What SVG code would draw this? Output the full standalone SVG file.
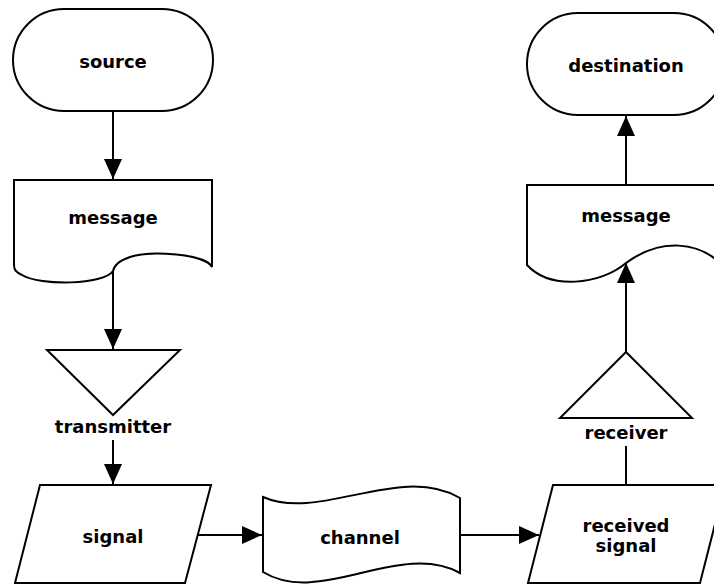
<svg xmlns="http://www.w3.org/2000/svg" width="714" height="584" viewBox="0 0 714 584">
<style>
.s{fill:#fff;stroke:#000;stroke-width:2}
.c{fill:none;stroke:#000;stroke-width:2}
text{font-family:"DejaVu Sans",Verdana,sans-serif;font-weight:bold;font-size:18px;text-anchor:middle;fill:#000}
</style>
<defs>
<marker id="a" markerUnits="userSpaceOnUse" markerWidth="20" markerHeight="20" viewBox="0 0 20 20" refX="20" refY="10" orient="auto">
<path d="M0,1 L20,10 L0,19 Z" fill="#000"/>
</marker>
</defs>
<g id="connectors">
<line class="c" x1="113" y1="111" x2="113" y2="179" marker-end="url(#a)"/>
<line class="c" x1="113" y1="270" x2="113" y2="349" marker-end="url(#a)"/>
<line class="c" x1="113" y1="440" x2="113" y2="484" marker-end="url(#a)"/>
<line class="c" x1="198" y1="535" x2="262" y2="535" marker-end="url(#a)"/>
<line class="c" x1="460" y1="535" x2="539" y2="535" marker-end="url(#a)"/>
<line class="c" x1="626" y1="485" x2="626" y2="446"/>
<line class="c" x1="626" y1="352" x2="626" y2="263" marker-end="url(#a)"/>
<line class="c" x1="626" y1="185" x2="626" y2="116" marker-end="url(#a)"/>
</g>
<g id="source">
<rect class="s" x="13" y="9" width="200" height="102" rx="51" ry="51"/>
<text x="113" y="68">source</text>
</g>
<g id="message1">
<path class="s" d="M14,180 H212 V267 C206,254 150,250 130,257 C118,261 114,266 113,271 C104,285 40,286 22,275 C16,272 14,270 14,265 Z"/>
<text x="113" y="224">message</text>
</g>
<g id="transmitter">
<polygon class="s" points="47,350 180,350 113,415"/>
<text x="113" y="433">transmitter</text>
</g>
<g id="signal">
<polygon class="s" points="40,485 211,485 185,583 15,583"/>
<text x="113" y="543">signal</text>
</g>
<g id="channel">
<path class="s" d="M263,497 C320,522 400,463 460,498 V573 C400,540 320,607 263,572 Z"/>
<text x="360" y="544">channel</text>
</g>
<g id="received-signal">
<polygon class="s" points="553,485 725,485 700,583 528,583"/>
<text x="626" y="532">received</text>
<text x="626" y="552">signal</text>
</g>
<g id="receiver">
<polygon class="s" points="626,352 692,418 560,418"/>
<text x="626" y="439">receiver</text>
</g>
<g id="message2">
<path class="s" d="M527,185 H725 V268 C700,240 660,238 626,263 C600,285 550,290 527,265 Z"/>
<text x="626" y="222">message</text>
</g>
<g id="destination">
<rect class="s" x="527" y="13" width="198" height="102" rx="51" ry="51"/>
<text x="626" y="72">destination</text>
</g>
</svg>
